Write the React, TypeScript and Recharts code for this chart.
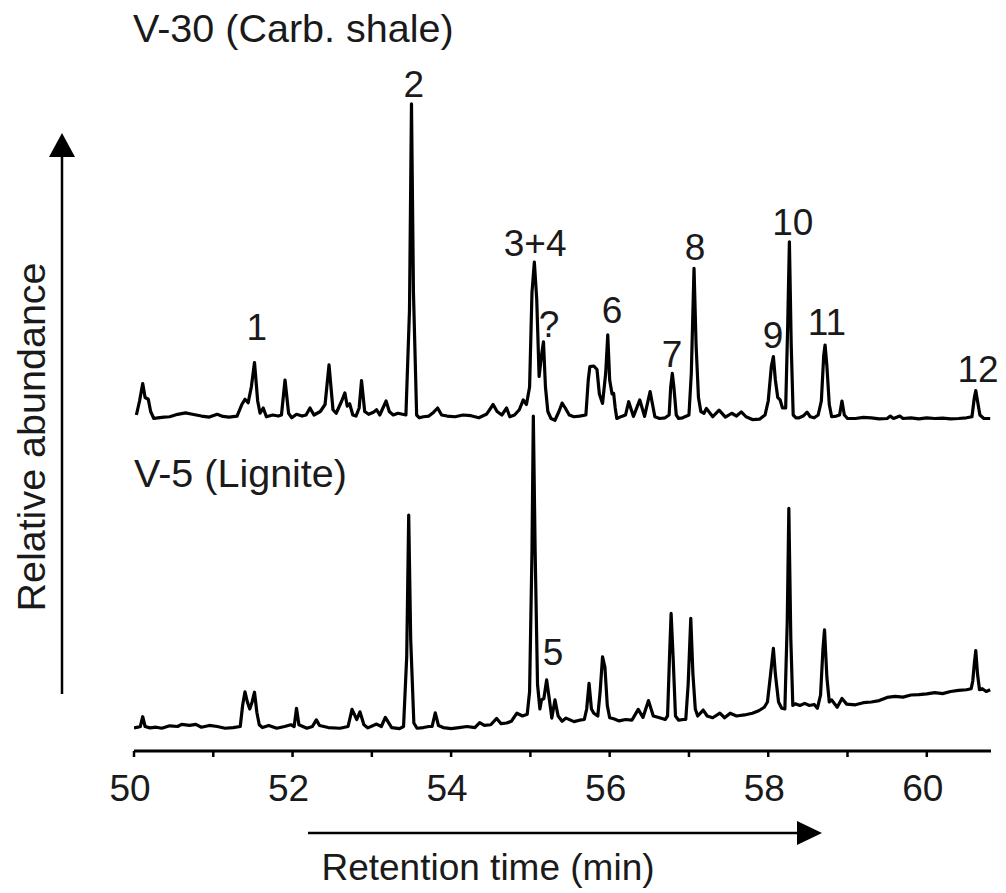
import React from 'react';
import { LineChart, Line, XAxis, YAxis, ReferenceDot } from 'recharts';

const FONT = '"Liberation Sans", Arial, Helvetica, sans-serif';

// Retention-time axis ticks (min)
const timeTicks = [50, 51, 52, 53, 54, 55, 56, 57, 58, 59, 60];
const timeDomain = [50, 60.81];

// Vertical placement of the two stacked chromatograms (relative abundance units)
const TOP_OFFSET = 96;
const BOTTOM_OFFSET = 7;

// V-30 (Carb. shale) chromatogram: [retention time, relative abundance]
const v30Trace: [number, number][] = [
  [50.03, 0], [50.07, 4], [50.11, 9], [50.14, 5], [50.18, 4.5], [50.21, 1], [50.25, -1], [50.3, -0.8],
  [50.38, -0.6], [50.45, -0.5], [50.55, 0.2], [50.65, 0.6], [50.72, 0.3], [50.85, -0.3], [50.95, -0.6],
  [51.05, 0.2], [51.12, -0.4], [51.2, -0.6], [51.3, -0.3], [51.36, 3], [51.4, 4.5], [51.44, 3.5],
  [51.48, 8], [51.52, 15], [51.56, 4], [51.59, 0.5], [51.63, 2], [51.67, -0.5], [51.75, 0], [51.82, -0.3],
  [51.86, 0], [51.905, 10], [51.95, 0.5], [51.99, -0.8], [52.05, 0.2], [52.12, -0.3], [52.17, 0],
  [52.22, 2], [52.27, 0], [52.35, 1], [52.41, 3], [52.46, 14.3], [52.51, 1.5], [52.55, 0.5], [52.62, 4],
  [52.66, 6.3], [52.69, 2.5], [52.72, 3.2], [52.76, 0], [52.8, -0.3], [52.84, 2], [52.87, 9.8],
  [52.91, 1], [52.96, 0.2], [53.02, 0.8], [53.06, 1.5], [53.1, 0], [53.15, 2.5], [53.18, 4], [53.22, 1],
  [53.27, 0], [53.33, 0.5], [53.43, 0], [53.475, 30], [53.5, 88.9], [53.525, 35], [53.565, 0],
  [53.6, -0.8], [53.65, -0.5], [53.72, -0.3], [53.78, 0.8], [53.83, 2], [53.88, 0], [53.95, -0.3],
  [54.05, -0.5], [54.15, 0], [54.25, -0.2], [54.35, -0.8], [54.45, 0.3], [54.53, 3], [54.58, 1],
  [54.64, 0], [54.7, 2], [54.74, -0.5], [54.8, 0], [54.86, 1.5], [54.91, 4.3], [54.95, 3], [54.99, 8],
  [55.02, 35], [55.05, 43.7], [55.08, 33], [55.11, 11], [55.14, 17], [55.165, 20.9], [55.19, 8],
  [55.22, 1], [55.26, -1], [55.31, -1.5], [55.36, 1], [55.4, 3.4], [55.44, 2], [55.49, 0], [55.55, -0.5],
  [55.62, -0.3], [55.7, 0], [55.73, 10], [55.75, 13.8], [55.8, 14], [55.84, 13], [55.87, 6], [55.91, 3.3],
  [55.95, 12], [55.976, 22.9], [56.0, 10], [56.03, 6], [56.05, 6.2], [56.07, 2], [56.09, -1],
  [56.15, -0.4], [56.2, 0], [56.24, 3.8], [56.3, -0.4], [56.38, 4.3], [56.44, -0.4], [56.51, 6.7],
  [56.57, -0.5], [56.63, -1], [56.7, -0.8], [56.75, 0], [56.77, 8], [56.79, 11.9], [56.81, 8], [56.84, 0],
  [56.87, -1], [56.92, -0.8], [57.0, 0], [57.03, 12], [57.064, 41.9], [57.09, 20], [57.12, 5], [57.15, 1],
  [57.19, 0.5], [57.22, 1.9], [57.3, -0.5], [57.38, 1.4], [57.46, -0.6], [57.54, 0.5], [57.6, -0.3],
  [57.66, 0.9], [57.72, -0.5], [57.8, -1.3], [57.89, -1.2], [57.93, -0.5], [57.96, 0], [58.0, 4],
  [58.04, 14], [58.065, 16.7], [58.09, 10], [58.12, 5], [58.15, 4.3], [58.18, 2], [58.22, 2],
  [58.245, 25], [58.267, 49.5], [58.29, 20], [58.315, 0], [58.35, -0.8], [58.39, -0.8], [58.44, -0.3],
  [58.49, 0.8], [58.53, -0.5], [58.58, -0.8], [58.63, 0], [58.67, 4], [58.7, 17], [58.717, 20],
  [58.74, 14], [58.77, 3], [58.8, -0.5], [58.86, -0.3], [58.9, 0], [58.93, 4], [58.96, 0], [59.0, -1],
  [59.1, -1], [59.2, -0.7], [59.3, -0.8], [59.4, -1.1], [59.5, -1], [59.54, -0.3], [59.58, -1],
  [59.66, -0.3], [59.7, -1], [59.8, -0.8], [59.9, -1.1], [60.0, -0.8], [60.1, -1], [60.2, -0.9],
  [60.3, -1.1], [60.4, -1], [60.5, -0.8], [60.57, -0.5], [60.6, 5], [60.618, 7], [60.64, 4], [60.67, 0],
  [60.72, -1], [60.8, -1],
];

// V-5 (Lignite) chromatogram: [retention time, relative abundance]
const v5Trace: [number, number][] = [
  [50.0, -0.4], [50.05, -0.2], [50.08, 0], [50.11, 2.8], [50.14, 0], [50.2, -0.4], [50.28, -0.2],
  [50.35, -0.5], [50.45, 0.2], [50.55, 0], [50.6, 0.6], [50.7, 0.3], [50.78, 0.6], [50.85, -0.2],
  [50.95, 0.3], [51.05, 0], [51.15, -0.5], [51.25, -0.3], [51.34, 0], [51.37, 6], [51.4, 9.9], [51.43, 7],
  [51.46, 5], [51.49, 7], [51.52, 9.8], [51.55, 4], [51.58, 0.5], [51.62, -0.3], [51.7, 0.3], [51.8, -0.5],
  [51.9, 0], [51.98, 0.5], [52.02, 0], [52.05, 5.2], [52.08, 0.5], [52.13, 0], [52.18, -0.5], [52.25, 0],
  [52.3, 1.9], [52.34, 0.3], [52.45, -0.3], [52.6, -0.5], [52.7, 0], [52.75, 4.9], [52.81, 2],
  [52.85, 4.2], [52.9, 0.5], [52.95, -0.4], [53.06, 0.7], [53.12, 0], [53.17, 2.6], [53.25, -0.3],
  [53.35, -0.6], [53.4, 0], [53.44, 20], [53.465, 60.4], [53.49, 25], [53.53, 1], [53.57, -0.5],
  [53.65, -0.3], [53.72, 0], [53.76, 0], [53.8, 3.9], [53.84, 0.3], [53.9, -0.3], [54.0, -0.6],
  [54.1, -0.3], [54.2, 0], [54.3, -0.3], [54.36, 1.1], [54.42, 0.3], [54.5, 0.5], [54.575, 2.3],
  [54.63, 0.8], [54.7, 1], [54.76, 1.5], [54.83, 3.8], [54.9, 3], [54.96, 3.5], [54.99, 10], [55.02, 50],
  [55.037, 88.7], [55.06, 50], [55.09, 12], [55.12, 5], [55.14, 7.6], [55.17, 8], [55.205, 13.3],
  [55.24, 7.6], [55.27, 2.4], [55.31, 7.6], [55.35, 3], [55.4, 1.5], [55.45, 2.4], [55.55, 1.4],
  [55.62, 1.8], [55.68, 2], [55.71, 5], [55.74, 12.3], [55.77, 5], [55.8, 3.8], [55.85, 3], [55.88, 10],
  [55.91, 19.9], [55.94, 17], [55.97, 6], [56.0, 2.5], [56.05, 2.2], [56.12, 1.6], [56.2, 2], [56.28, 1.8],
  [56.36, 4.9], [56.42, 2.6], [56.49, 7.4], [56.55, 3], [56.63, 2.5], [56.7, 2], [56.73, 3], [56.755, 20],
  [56.775, 32.3], [56.8, 20], [56.83, 3], [56.87, 1.8], [56.93, 2], [56.96, 2], [56.99, 12],
  [57.023, 30.9], [57.05, 15], [57.08, 5], [57.11, 3], [57.18, 4.7], [57.23, 3], [57.3, 2.5], [57.39, 3.8],
  [57.45, 2.5], [57.52, 3.8], [57.6, 3], [57.7, 3.3], [57.8, 3.8], [57.88, 4.5], [57.95, 5.5], [57.99, 7],
  [58.03, 15], [58.065, 22.3], [58.09, 15], [58.13, 7], [58.17, 5.2], [58.21, 5], [58.24, 30],
  [58.26, 62.3], [58.285, 25], [58.31, 6], [58.34, 6.5], [58.4, 6], [58.46, 6.6], [58.52, 6], [58.58, 6.3],
  [58.62, 5.2], [58.66, 9], [58.69, 22], [58.71, 27.6], [58.74, 14], [58.77, 7], [58.8, 7.6], [58.87, 5.5],
  [58.93, 8], [58.99, 6.4], [59.1, 6.2], [59.2, 6.8], [59.3, 7.0], [59.4, 7.4], [59.5, 8.3], [59.6, 8.6],
  [59.7, 8.4], [59.8, 9.0], [59.9, 9.1], [60.0, 9.3], [60.1, 9.7], [60.2, 9.4], [60.3, 10.0], [60.4, 10.3],
  [60.5, 10.5], [60.56, 10.8], [60.58, 13], [60.6, 18], [60.618, 21.7], [60.64, 15], [60.665, 10.5],
  [60.7, 10.8], [60.75, 10], [60.8, 10.5],
];

// Peak labels: text, retention time, height above the trace baseline, trace
const peakLabelText = ['1', '2', '3+4', '?', '6', '7', '8', '9', '10', '11', '12', '5'];
const peakLabelTime = [51.55, 53.53, 55.06, 55.235, 56.03, 56.786, 57.076, 58.06, 58.31, 58.74, 60.646, 55.285];
const peakLabelLevel = [21.4, 90.9, 45.4, 22.3, 26.3, 13.7, 44.3, 19.1, 51.4, 22.9, 9.4, 17.6];
const peakLabelTrace = ['top', 'top', 'top', 'top', 'top', 'top', 'top', 'top', 'top', 'top', 'top', 'bottom'];

const sampleNames = ['V-30 (Carb. shale)', 'V-5 (Lignite)'];

type Row = { t: number; top?: number; bottom?: number };

function buildRows(): Row[] {
  const map = new Map<number, Row>();
  v30Trace.forEach(([t, v]) => {
    const r = map.get(t) || { t };
    r.top = v + TOP_OFFSET;
    map.set(t, r);
  });
  v5Trace.forEach(([t, v]) => {
    const r = map.get(t) || { t };
    r.bottom = v + BOTTOM_OFFSET;
    map.set(t, r);
  });
  return Array.from(map.values()).sort((a, b) => a.t - b.t);
}

const rows = buildRows();

const TEXT_COLOR = '#1a1a1a';
const FS = 37;
const FS_BIG = 39.5;

export default function App() {
  return (
    <div style={{ position: 'absolute', left: 0, top: 0, width: 1006, height: 893, background: '#fff' }}>
      <LineChart
        width={1006}
        height={893}
        data={rows}
        margin={{ top: 51, right: 15, bottom: 102, left: 134 }}
      >
        <XAxis
          type="number"
          dataKey="t"
          domain={timeDomain}
          ticks={timeTicks}
          interval={0}
          allowDataOverflow
          height={40}
          tickFormatter={(v: number) => (Math.round(v) % 2 === 0 ? String(v) : '')}
          axisLine={{ stroke: '#000', strokeWidth: 3 }}
          tickLine={{ stroke: '#000', strokeWidth: 2.5 }}
          tickSize={6}
          tickMargin={18}
          tick={{ fontSize: FS, fill: TEXT_COLOR, fontFamily: FONT, dx: -4 }}
        />
        <YAxis type="number" domain={[0, 200]} hide allowDataOverflow />
        <Line
          type="linear"
          dataKey="top"
          stroke="#000"
          strokeWidth={3.2}
          dot={false}
          activeDot={false}
          connectNulls
          isAnimationActive={false}
          strokeLinejoin="round"
        />
        <Line
          type="linear"
          dataKey="bottom"
          stroke="#000"
          strokeWidth={3.2}
          dot={false}
          activeDot={false}
          connectNulls
          isAnimationActive={false}
          strokeLinejoin="round"
        />
        {peakLabelText.map((txt, i) => (
          <ReferenceDot
            key={txt + i}
            x={peakLabelTime[i]}
            y={peakLabelLevel[i] + (peakLabelTrace[i] === 'top' ? TOP_OFFSET : BOTTOM_OFFSET)}
            r={0}
            ifOverflow="visible"
            shape={(p: any) => (
              <text
                x={p.cx}
                y={p.cy}
                textAnchor="middle"
                fontSize={FS}
                fontFamily={FONT}
                fill={TEXT_COLOR}
              >
                {txt}
              </text>
            )}
          />
        ))}
      </LineChart>
      <svg
        width={1006}
        height={893}
        style={{ position: 'absolute', left: 0, top: 0, pointerEvents: 'none' }}
      >
        <text x={133} y={42} fontSize={FS_BIG} fontFamily={FONT} fill={TEXT_COLOR}>{sampleNames[0]}</text>
        <text x={134} y={487} fontSize={FS_BIG} fontFamily={FONT} fill={TEXT_COLOR}>{sampleNames[1]}</text>
        {/* y arrow */}
        <line x1={62} y1={694} x2={62} y2={150} stroke="#000" strokeWidth={2.5} />
        <polygon points="62,133 49,157 75,157" fill="#000" />
        {/* x arrow */}
        <line x1={308} y1={833} x2={802} y2={833} stroke="#000" strokeWidth={2.5} />
        <polygon points="822,833 797,821 797,845" fill="#000" />
        <text x={488} y={880} textAnchor="middle" fontSize={FS} fontFamily={FONT} fill={TEXT_COLOR}>
          Retention time (min)
        </text>
        <text
          x={45}
          y={437}
          textAnchor="middle"
          fontSize={FS_BIG}
          fontFamily={FONT}
          fill={TEXT_COLOR}
          transform="rotate(-90, 45, 437)"
        >
          Relative abundance
        </text>
      </svg>
    </div>
  );
}
